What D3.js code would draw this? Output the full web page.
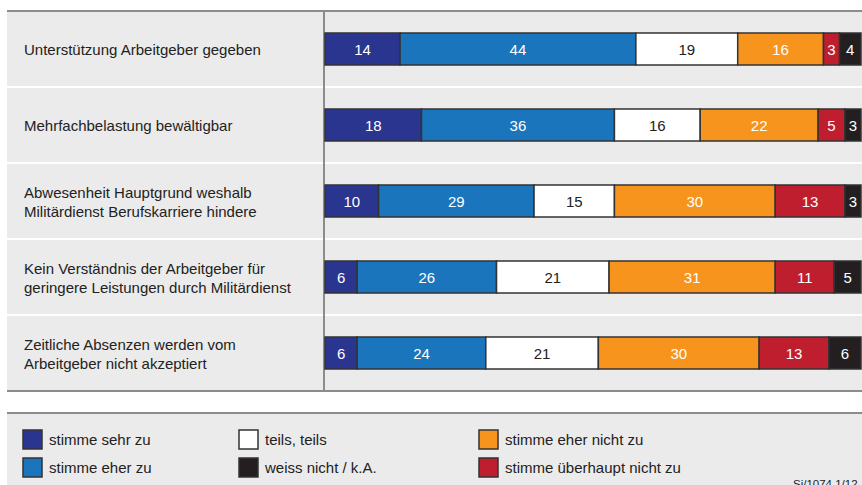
<!DOCTYPE html>
<html>
<head>
<meta charset="utf-8">
<script src="https://cdn.jsdelivr.net/npm/d3@7"></script>
<style>
  body { margin: 0; background: #fff; }
  text { font-family: "Liberation Sans", Arial, sans-serif; }
</style>
</head>
<body>
<div id="chart"></div>
<script>
var categories = [
  ["Unterstützung Arbeitgeber gegeben"],
  ["Mehrfachbelastung bewältigbar"],
  ["Abwesenheit Hauptgrund weshalb", "Militärdienst Berufskarriere hindere"],
  ["Kein Verständnis der Arbeitgeber für", "geringere Leistungen durch Militärdienst"],
  ["Zeitliche Absenzen werden vom", "Arbeitgeber nicht akzeptiert"]
];
var seriesNames = ["stimme sehr zu", "stimme eher zu", "teils, teils", "stimme eher nicht zu", "stimme überhaupt nicht zu", "weiss nicht / k.A."];
var sehrZu = [14, 18, 10, 6, 6];
var eherZu = [44, 36, 29, 26, 24];
var teils = [19, 16, 15, 21, 21];
var eherNicht = [16, 22, 30, 31, 30];
var ueberhauptNicht = [3, 5, 13, 11, 13];
var weissNicht = [4, 3, 3, 5, 6];
var colors = ["#2a3590", "#1b75bc", "#ffffff", "#f7941d", "#be1e2d", "#231f20"];
var textColors = ["#fff", "#fff", "#222", "#fff", "#fff", "#fff"];
var legendOrder = [0, 1, 2, 5, 3, 4];
var footnote = "Si/1074  1/12";

var width = 862, height = 485;
var svg = d3.select("#chart").append("svg")
            .attr("width", width)
            .attr("height", height);

var series = [sehrZu, eherZu, teils, eherNicht, ueberhauptNicht, weissNicht];
var rows = categories.map((c, i) => {
  var x0 = 0;
  return series.map((s, k) => {
    var seg = { k: k, i: i, v: s[i], x0: x0, x1: x0 + s[i] };
    x0 += s[i];
    return seg;
  });
});

var panelTop = 11, panelBottom = 391, panelLeft = 7, divider = 324;
var fontSize = "15px";

// panel
svg.append("rect").attr("x", panelLeft).attr("y", panelTop).attr("width", width - panelLeft).attr("height", panelBottom - panelTop).attr("fill", "#ebebeb");

var y = d3.scaleBand()
          .domain(d3.range(categories.length))
          .range([panelTop, panelBottom]);

var x = d3.scaleLinear()
          .domain([0, 100])
          .range([325, 861]);

// row separators
svg.selectAll("line.sep")
   .data(d3.range(1, categories.length))
   .enter().append("line")
   .attr("class", "sep")
   .attr("x1", panelLeft).attr("x2", width)
   .attr("y1", d => y(d)).attr("y2", d => y(d))
   .attr("stroke", "#fff").attr("stroke-width", 2);

// lines
svg.append("line").attr("x1", panelLeft).attr("x2", width).attr("y1", panelTop).attr("y2", panelTop).attr("stroke", "#8c8c8c").attr("stroke-width", 2);
svg.append("line").attr("x1", panelLeft).attr("x2", width).attr("y1", panelBottom).attr("y2", panelBottom).attr("stroke", "#8c8c8c").attr("stroke-width", 2);
svg.append("line").attr("x1", divider).attr("x2", divider).attr("y1", panelTop).attr("y2", panelBottom).attr("stroke", "#8c8c8c").attr("stroke-width", 2);

// labels
var lab = svg.selectAll("text.cat")
             .data(categories)
             .enter().append("text")
             .attr("class", "cat")
             .attr("x", 24)
             .attr("fill", "#222")
             .style("font-size", fontSize);
lab.each(function(d, i) {
  var cy = y(i) + y.bandwidth() / 2;
  var t = d3.select(this);
  d.forEach((line, j) => {
    t.append("tspan")
     .attr("x", 24)
     .attr("y", cy + 6 + (j - (d.length - 1) / 2) * 19)
     .text(line);
  });
});

// bars
var barH = 32;
var rowG = svg.selectAll("g.row")
              .data(rows)
              .enter().append("g")
              .attr("class", "row")
              .attr("transform", (d, i) => "translate(0," + (y(i) + y.bandwidth() / 2 - barH / 2) + ")");

rowG.selectAll("rect")
    .data(d => d)
    .enter().append("rect")
    .attr("x", d => x(d.x0))
    .attr("width", d => x(d.x1) - x(d.x0))
    .attr("height", barH)
    .attr("fill", d => colors[d.k])
    .attr("stroke", "#333")
    .attr("stroke-width", 1.5);

rowG.selectAll("text")
    .data(d => d)
    .enter().append("text")
    .attr("x", d => (x(d.x0) + x(d.x1)) / 2)
    .attr("y", barH / 2 + 5.5)
    .attr("text-anchor", "middle")
    .attr("fill", d => textColors[d.k])
    .style("font-size", fontSize)
    .text(d => d.v);

// legend panel
var legTop = 413;
svg.append("rect").attr("x", panelLeft).attr("y", legTop).attr("width", width - panelLeft).attr("height", height - legTop).attr("fill", "#ebebeb");
svg.append("line").attr("x1", panelLeft).attr("x2", width).attr("y1", legTop).attr("y2", legTop).attr("stroke", "#8c8c8c").attr("stroke-width", 2);

var colX = [23, 239, 479];
var legend = svg.selectAll("g.legend")
                .data(legendOrder)
                .enter().append("g")
                .attr("class", "legend")
                .attr("transform", (d, i) => "translate(" + colX[Math.floor(i / 2)] + "," + (430 + (i % 2) * 28) + ")");

legend.append("rect")
      .attr("width", 19)
      .attr("height", 19)
      .attr("fill", d => colors[d])
      .attr("stroke", "#333")
      .attr("stroke-width", 1.5);

legend.append("text")
      .attr("x", 26)
      .attr("y", 15)
      .attr("fill", "#222")
      .style("font-size", fontSize)
      .text(d => seriesNames[d]);

svg.append("text")
   .attr("x", 793)
   .attr("y", 488)
   .attr("fill", "#222")
   .style("font-size", "11.5px")
   .text(footnote);
</script>
</body>
</html>
